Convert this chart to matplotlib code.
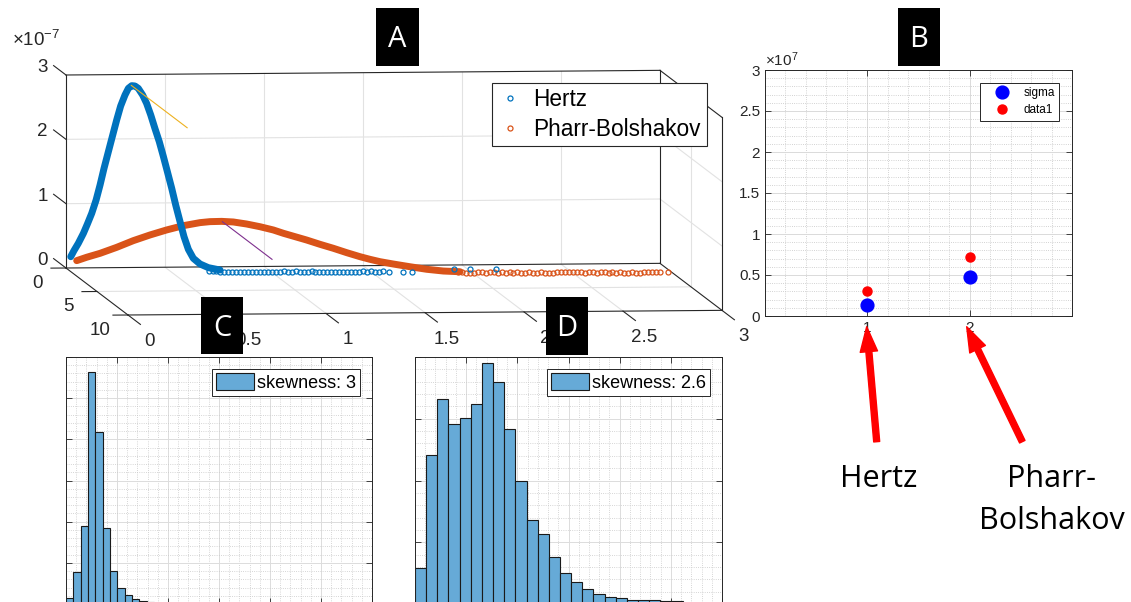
import numpy as np
import matplotlib

matplotlib.use("Agg")
import matplotlib.pyplot as plt  # noqa: E402
from matplotlib.lines import Line2D  # noqa: E402
from matplotlib.patches import Rectangle  # noqa: E402
from matplotlib.ticker import MultipleLocator, FuncFormatter  # noqa: E402

plt.rcParams["font.family"] = ["Liberation Sans", "DejaVu Sans"]
plt.rcParams["mathtext.fontset"] = "custom"
plt.rcParams["mathtext.rm"] = "Liberation Sans"
plt.rcParams["mathtext.it"] = "Liberation Sans:italic"

W, H = 1131, 602
INK = "#262626"
GRID = "#E2E2E2"
HIST_FACE = (0.40, 0.668, 0.845)
BLUE, ORANGE, YELLOW, PURPLE = "#0072BD", "#D95319", "#EDB120", "#7E2F8E"

# --- A: stress distributions (z in units of 1e-7) ---------------------------
HERTZ_X = [0.024, 0.040, 0.062, 0.088, 0.108, 0.130, 0.152, 0.172, 0.192, 0.214,
           0.236, 0.256, 0.276, 0.298, 0.315, 0.332, 0.348, 0.365, 0.387, 0.407,
           0.428, 0.449, 0.471, 0.492, 0.512, 0.534, 0.554, 0.576, 0.596, 0.618,
           0.643, 0.677, 0.719, 0.778]
HERTZ_Z = [0.175, 0.268, 0.381, 0.537, 0.681, 0.847, 1.053, 1.286, 1.544, 1.803,
           2.061, 2.295, 2.511, 2.682, 2.785, 2.826, 2.821, 2.784, 2.680, 2.550,
           2.368, 2.160, 1.953, 1.719, 1.485, 1.225, 0.966, 0.706, 0.473, 0.275,
           0.135, 0.046, -0.012, -0.050]
HERTZ_TAIL_X = [0.72, 0.74, 0.76, 0.78, 0.80, 0.82, 0.84, 0.86, 0.88, 0.90,
                0.92, 0.94, 0.96, 0.98, 1.00, 1.02, 1.04, 1.06, 1.08, 1.10,
                1.12, 1.14, 1.16, 1.18, 1.20, 1.22, 1.24, 1.26, 1.28, 1.30,
                1.32, 1.34, 1.36, 1.38, 1.40, 1.42, 1.44, 1.46, 1.48, 1.50,
                1.52, 1.54, 1.56, 1.58, 1.60, 1.63, 1.70, 1.75, 1.96, 2.04,
                2.17]
HERTZ_TAIL_Z = [-0.06, -0.07, -0.07, -0.08, -0.08, -0.08, -0.08, -0.09, -0.08, -0.08,
                -0.09, -0.08, -0.08, -0.09, -0.08, -0.09, -0.08, -0.09, -0.09, -0.08,
                -0.09, -0.09, -0.08, -0.09, -0.09, -0.09, -0.08, -0.09, -0.09, -0.09,
                -0.09, -0.09, -0.10, -0.09, -0.09, -0.10, -0.09, -0.09, -0.10, -0.09,
                -0.10, -0.09, -0.10, -0.10, -0.09, -0.10, -0.10, -0.10, -0.07, -0.07,
                -0.07]
PB_X = [0.054, 0.104, 0.172, 0.256, 0.340, 0.424, 0.508, 0.593, 0.677, 0.727,
        0.786, 0.845, 0.912, 0.980, 1.047, 1.098, 1.157, 1.215, 1.283, 1.350,
        1.418, 1.485, 1.535, 1.586, 1.653, 1.737, 1.822, 1.906, 1.990]
PB_Z = [0.113, 0.164, 0.224, 0.315, 0.417, 0.503, 0.579, 0.644, 0.689, 0.703,
        0.706, 0.695, 0.662, 0.618, 0.566, 0.513, 0.459, 0.406, 0.337, 0.274,
        0.204, 0.140, 0.098, 0.060, 0.022, -0.022, -0.064, -0.093, -0.106]
PB_TAIL_X = [1.98, 2.00, 2.02, 2.04, 2.06, 2.08, 2.10, 2.12, 2.14, 2.16,
             2.18, 2.20, 2.22, 2.24, 2.26, 2.28, 2.30, 2.32, 2.34, 2.36,
             2.38, 2.40, 2.42, 2.44, 2.46, 2.48, 2.50, 2.52, 2.54, 2.56,
             2.58, 2.60, 2.62, 2.64, 2.66, 2.68, 2.70, 2.72, 2.74, 2.76,
             2.78, 2.80, 2.82, 2.84, 2.86, 2.88, 2.90, 2.92, 2.94, 2.96,
             2.98, 3.00, 3.04]
PB_TAIL_Z = [-0.11, -0.11, -0.12, -0.12, -0.12, -0.12, -0.12, -0.13, -0.12, -0.12,
             -0.13, -0.12, -0.13, -0.12, -0.13, -0.12, -0.13, -0.13, -0.12, -0.13,
             -0.13, -0.12, -0.13, -0.13, -0.13, -0.12, -0.13, -0.13, -0.13, -0.13,
             -0.13, -0.13, -0.14, -0.13, -0.13, -0.14, -0.13, -0.13, -0.14, -0.13,
             -0.14, -0.13, -0.14, -0.14, -0.13, -0.14, -0.14, -0.14, -0.14, -0.14,
             -0.14, -0.14, -0.14]
PEAK_X = [0.33, 0.79]
PEAK_Z = [2.83, 0.70]
PEAK_DEPTH = [9, 8]
PEAK_COLORS = [YELLOW, PURPLE]
A_XTICKS = [0, 0.5, 1, 1.5, 2, 2.5, 3]
A_ZTICKS = [0, 1, 2, 3]
A_DTICKS = [0, 5, 10]

# --- B: peak stress per model ------------------------------------------------
B_X = [1, 2]
SIGMA = [0.134e7, 0.47e7]
DATA1 = [0.30e7, 0.72e7]

# --- C / D: histograms -------------------------------------------------------
C_BIN_W = 0.144
C_COUNTS = [0.15, 0.78, 1.89, 5.64, 4.18, 1.85, 0.81, 0.38, 0.23, 0.11,
            0.07, 0.05, 0.03, 0.02, 0.02]
D_BIN_W = 0.218
D_COUNTS = [0.58, 2.42, 3.32, 2.92, 3.01, 3.24, 3.90, 3.59, 2.84, 2.00,
            1.36, 1.13, 0.76, 0.51, 0.35, 0.24, 0.16, 0.11, 0.09, 0.07,
            0.065, 0.06, 0.05, 0.05]


def box(left, top, right, bottom):
    """Pixel box (top-left origin) -> figure-fraction rect."""
    return [left / W, 1 - bottom / H, (right - left) / W, (bottom - top) / H]


fig = plt.figure(figsize=(W / 100, H / 100), dpi=100)

# ---------------------------------------------------------------------------
# Panel A: 3-D view drawn as an oblique projection onto the back (x-z) plane
A_L, A_T, A_R, A_B = 66, 75, 660, 268
axA = fig.add_axes(box(A_L, A_T, A_R, A_B))
axA.set_xlim(0, 3)
axA.set_ylim(0, 3)
axA.axis("off")
PX_X = (A_R - A_L) / 3.0
PX_Z = (A_B - A_T) / 3.0
DEPTH_DX, DEPTH_DY, X_RISE = 6.2, 4.7, 1.55


def proj(x, d, z):
    x, d, z = (np.asarray(v, float) for v in (x, d, z))
    return x + d * DEPTH_DX / PX_X, z + (x * X_RISE - d * DEPTH_DY) / PX_Z


def seg(p0, p1, color=INK, lw=0.8, z=2):
    xs, zs = proj([p0[0], p1[0]], [p0[1], p1[1]], [p0[2], p1[2]])
    axA.add_line(Line2D(xs, zs, color=color, lw=lw, zorder=z, clip_on=False))


for gx in A_XTICKS[1:-1]:
    seg((gx, 0, 0), (gx, 0, 3), GRID)
    seg((gx, 0, 0), (gx, 10, 0), GRID)
for gz in A_ZTICKS[1:-1]:
    seg((0, 0, gz), (3, 0, gz), GRID)
    seg((3, 0, gz), (3, 10, gz), GRID)
seg((0, 5, 0), (3, 5, 0), GRID)
seg((3, 5, 0), (3, 5, 3), GRID)

# box edges
seg((0, 0, 0), (3, 0, 0))
seg((0, 0, 3), (3, 0, 3))
seg((0, 0, 0), (0, 0, 3))
seg((3, 0, 0), (3, 0, 3))
seg((3, 0, 3), (3, 10, 3))
seg((3, 10, 3), (3, 10, 0))
seg((3, 0, 0), (3, 10, 0))
seg((0, 10, 0), (3, 10, 0))
seg((0, 0, 0), (0, 10, 0))

tick_kw = dict(fontsize=13.5, color=INK, textcoords="offset pixels",
               annotation_clip=False)
for t in A_XTICKS:
    seg((t, 10, 0), (t, 12, 0))
    axA.annotate(f"{t:g}", proj(t, 12, 0), xytext=(9, -17),
                 ha="center", va="center", **tick_kw)
for t in A_ZTICKS:
    seg((0, 0, t), (0, -2, t))
    axA.annotate(f"{t:g}", proj(0, -2, t), xytext=(-6, -2),
                 ha="right", va="center", **tick_kw)
for t in A_DTICKS:
    seg((0, t, 0), (-0.076, t, 0))
    axA.annotate(f"{t:g}", proj(-0.076, t, 0), xytext=(-13, -15),
                 ha="center", va="center", **tick_kw)
fig.text(12 / W, 1 - 46 / H, r"$\times10^{-7}$", fontsize=13.5, color=INK,
         ha="left", va="baseline")

curve = dict(lw=5, solid_capstyle="round", solid_joinstyle="round", clip_on=False)
hx, hz = proj(HERTZ_X, 0, HERTZ_Z)
axA.plot(hx, hz, color=BLUE, zorder=4, **curve)
px, pz = proj(PB_X, 0, PB_Z)
axA.plot(px, pz, color=ORANGE, zorder=3, **curve)
circ = dict(ls="none", marker="o", ms=3.6, mfc="none", mew=0.9, clip_on=False)
tx, tz = proj(HERTZ_TAIL_X, 0, HERTZ_TAIL_Z)
h_hertz, = axA.plot(tx, tz, color=BLUE, zorder=4, **circ)
tx, tz = proj(PB_TAIL_X, 0, PB_TAIL_Z)
h_pb, = axA.plot(tx, tz, color=ORANGE, zorder=3, **circ)
for x0, z0, d0, c in zip(PEAK_X, PEAK_Z, PEAK_DEPTH, PEAK_COLORS):
    seg((x0, 0, z0), (x0, d0, z0), c, lw=0.8, z=5)

legA = fig.legend([h_hertz, h_pb], ["Hertz", "Pharr-Bolshakov"],
                  loc="upper left", bbox_to_anchor=(491.7 / W, 1 - 82.7 / H),
                  borderaxespad=0, fontsize=16.3, handlelength=1.1,
                  handletextpad=0.5, labelspacing=0.28, borderpad=0.25,
                  fancybox=False, framealpha=1, edgecolor=INK)
legA.get_frame().set_linewidth(0.8)

# ---------------------------------------------------------------------------
# Panel B: sigma vs data1 per model
axB = fig.add_axes(box(765, 70, 1072, 316))
axB.set_xlim(0, 3)
axB.set_ylim(0, 3e7)
axB.set_xticks(B_X)
axB.set_yticks(np.arange(0, 3.01e7, 0.5e7))
axB.yaxis.set_major_formatter(FuncFormatter(lambda v, _: f"{v / 1e7:g}"))
axB.xaxis.set_minor_locator(MultipleLocator(0.2))
axB.yaxis.set_minor_locator(MultipleLocator(0.1e7))
axB.grid(True, which="major", color="#DADADA", lw=0.7)
axB.grid(True, which="minor", color="#C4C4C4", ls=":", lw=0.6)
axB.set_axisbelow(True)
axB.tick_params(which="both", direction="in", top=True, right=True,
                colors=INK, labelsize=11, width=0.6)
axB.tick_params(which="major", length=4)
axB.tick_params(which="minor", length=0)
for s in axB.spines.values():
    s.set_color(INK)
    s.set_linewidth(0.7)
axB.plot(B_X, SIGMA, "o", color="#0000FF", ms=9.2, label="sigma", zorder=3)
axB.plot(B_X, DATA1, "o", color="#FF0000", ms=6.5, label="data1", zorder=3)
legB = axB.legend(loc="upper right", fontsize=8.5, borderaxespad=1.1,
                  handlelength=3.0, handletextpad=0.35, labelspacing=0.45,
                  borderpad=0.35, fancybox=False, framealpha=1, edgecolor=INK)
legB.get_frame().set_linewidth(0.7)
fig.text(765 / W, 1 - 66 / H, r"$\times10^{7}$", fontsize=11, color=INK,
         ha="left", va="baseline")

arrow = dict(arrowstyle="simple,head_length=18,head_width=12.5,tail_width=4.3",
             color="#FF0000", shrinkA=0, shrinkB=0, mutation_scale=1)
axB.annotate("", xy=(866.7, H - 326.7), xycoords="figure pixels",
             xytext=(876.7, H - 441.7), textcoords="figure pixels",
             arrowprops=arrow, annotation_clip=False)
axB.annotate("", xy=(966.7, H - 326.7), xycoords="figure pixels",
             xytext=(1022.3, H - 441.7), textcoords="figure pixels",
             arrowprops=arrow, annotation_clip=False)
note = dict(fontsize=22, family="Open Sans", color="black", ha="center",
            va="baseline")
fig.text(878.3 / W, 1 - 486.7 / H, "Hertz", **note)
fig.text(1051.7 / W, 1 - 486.7 / H, "Pharr-", **note)
fig.text(1051.7 / W, 1 - 529.3 / H, "Bolshakov", **note)


# ---------------------------------------------------------------------------
# Panels C and D: skewness histograms
def hist_panel(rect, counts, bin_w, ymax, label):
    ax = fig.add_axes(rect)
    edges = np.arange(len(counts)) * bin_w
    ax.bar(edges, counts, width=bin_w, align="edge", color=HIST_FACE,
           edgecolor="#1A1A1A", lw=0.8, label=label, zorder=2)
    ax.set_xlim(0, 6)
    ax.set_ylim(0, ymax)
    ax.xaxis.set_major_locator(MultipleLocator(1))
    ax.yaxis.set_major_locator(MultipleLocator(1))
    ax.xaxis.set_minor_locator(MultipleLocator(0.2))
    ax.yaxis.set_minor_locator(MultipleLocator(0.2))
    ax.grid(True, which="major", color="#DCDCDC", lw=0.7)
    ax.grid(True, which="minor", color="#C8C8C8", ls=":", lw=0.6)
    ax.set_axisbelow(True)
    ax.tick_params(which="both", direction="in", top=True, right=True,
                   labelleft=False, labelbottom=False, colors=INK, width=0.6)
    ax.tick_params(which="major", length=4)
    ax.tick_params(which="minor", length=0)
    for s in ax.spines.values():
        s.set_color(INK)
        s.set_linewidth(0.7)
    leg = ax.legend(loc="upper right", fontsize=13, handlelength=2.1,
                    handleheight=1.05, handletextpad=0.17, borderpad=0.22,
                    borderaxespad=0.67, fancybox=False, framealpha=1,
                    edgecolor=INK)
    leg.get_frame().set_linewidth(0.7)
    return ax


hist_panel(box(66, 357, 372, 604), C_COUNTS, C_BIN_W, 6, "skewness: 3")
hist_panel(box(415, 357, 722, 604), D_COUNTS, D_BIN_W, 4, "skewness: 2.6")

# ---------------------------------------------------------------------------
# panel letters
LETTERS = {"A": (376, 8, 419, 66), "B": (898, 8, 940, 66),
           "C": (201, 297, 243, 354), "D": (546, 297, 588, 355)}
for letter, (l, t, r, b) in LETTERS.items():
    fig.add_artist(Rectangle((l / W, 1 - b / H), (r - l) / W, (b - t) / H,
                             transform=fig.transFigure, facecolor="black",
                             edgecolor="none", zorder=5))
    fig.text((l + r) / 2 / W, 1 - ((t + b) / 2 + 10.3) / H, letter,
             color="white", fontsize=21, family="Open Sans", ha="center",
             va="baseline", zorder=6)

fig.savefig("out.png", dpi=100)
